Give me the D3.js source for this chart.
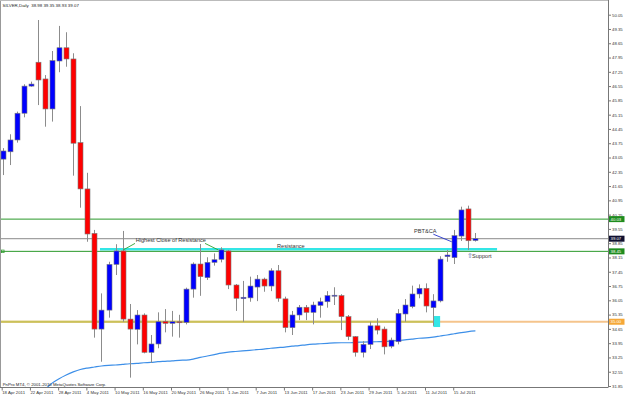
<!DOCTYPE html>
<html><head><meta charset="utf-8">
<script src="https://cdn.jsdelivr.net/npm/d3@7"></script>
<style>body{margin:0;background:#fff}svg{display:block}text{font-family:"Liberation Sans",Arial,sans-serif}</style>
</head><body>
<script>
const dates = ["18 Apr 2011","19 Apr 2011","20 Apr 2011","21 Apr 2011","22 Apr 2011","25 Apr 2011","26 Apr 2011","27 Apr 2011","28 Apr 2011","29 Apr 2011",
"2 May 2011","3 May 2011","4 May 2011","5 May 2011","6 May 2011","9 May 2011","10 May 2011","11 May 2011","12 May 2011","13 May 2011","16 May 2011","17 May 2011","18 May 2011","19 May 2011","20 May 2011","23 May 2011","24 May 2011","25 May 2011","26 May 2011","27 May 2011","30 May 2011","31 May 2011",
"1 Jun 2011","2 Jun 2011","3 Jun 2011","6 Jun 2011","7 Jun 2011","8 Jun 2011","9 Jun 2011","10 Jun 2011","13 Jun 2011","14 Jun 2011","15 Jun 2011","16 Jun 2011","17 Jun 2011","20 Jun 2011","21 Jun 2011","22 Jun 2011","23 Jun 2011","24 Jun 2011","27 Jun 2011","28 Jun 2011","29 Jun 2011","30 Jun 2011",
"1 Jul 2011","4 Jul 2011","5 Jul 2011","6 Jul 2011","7 Jul 2011","8 Jul 2011","11 Jul 2011","12 Jul 2011","13 Jul 2011","14 Jul 2011","15 Jul 2011","18 Jul 2011","19 Jul 2011","20 Jul 2011"];
const openV  = [42.97,43.33,43.91,45.22,46.55,47.72,46.90,45.43,47.78,48.43,47.88,43.78,41.51,39.33,34.64,35.57,37.81,38.47,35.13,34.63,35.33,33.50,33.91,35.02,34.92,35.00,34.97,36.60,37.83,37.16,37.91,38.06,38.47,36.80,36.13,36.17,36.70,37.09,36.75,37.50,36.12,34.71,35.33,35.71,35.46,35.80,35.98,36.28,36.28,35.25,34.27,33.50,33.89,34.80,34.64,33.80,34.02,35.38,35.74,36.36,36.64,35.69,36.02,38.19,38.14,39.20,40.53,38.98];
const highV  = [43.51,44.19,45.30,46.64,46.77,49.79,47.09,48.27,49.50,49.19,48.16,45.57,42.30,39.50,36.39,37.94,38.80,39.45,35.87,35.57,35.41,34.35,35.46,35.62,35.53,35.34,36.67,37.91,38.81,38.16,38.35,38.65,38.52,36.85,37.00,37.21,37.29,37.16,37.62,37.78,36.23,35.53,35.82,35.82,35.98,36.18,36.50,36.69,36.35,35.33,34.30,34.05,35.00,35.17,34.76,34.22,35.62,36.11,36.77,36.83,36.88,36.35,38.21,38.52,39.50,40.64,40.69,39.35];
const lowV   = [42.19,42.68,43.78,45.02,46.52,45.62,44.56,44.81,47.23,47.50,42.16,40.59,38.92,34.22,33.04,35.20,37.29,35.00,32.26,33.89,33.45,32.99,33.70,34.48,34.27,34.22,34.87,36.18,36.27,37.05,37.75,37.91,36.60,35.53,35.00,35.98,36.01,36.47,36.50,35.98,34.48,34.35,35.08,35.08,34.87,35.20,35.69,35.82,34.59,34.10,33.29,33.25,33.66,34.38,33.40,33.70,33.89,35.00,35.66,36.15,35.46,34.80,35.95,37.94,37.83,38.96,38.52,38.93];
const closeV = [43.37,43.91,45.22,46.55,46.65,46.85,45.43,47.80,48.43,47.88,43.75,41.51,39.30,34.64,35.57,37.81,38.47,35.13,34.64,35.33,33.50,33.91,35.00,34.92,35.00,34.95,36.60,37.83,37.21,37.91,38.04,38.52,36.80,36.15,36.20,36.75,37.09,36.75,37.50,36.15,34.71,35.33,35.71,35.46,35.82,35.98,36.28,36.30,35.25,34.27,33.50,33.89,34.80,34.59,33.77,34.10,35.41,35.82,36.36,36.64,35.77,36.02,38.07,38.27,39.22,40.48,38.97,39.07];
const maV = [null,null,null,null,null,null,31.68,31.99,32.21,32.39,32.54,32.66,32.73,32.78,32.83,32.86,32.88,32.91,32.94,32.96,32.99,33.01,33.04,33.06,33.08,33.11,33.12,33.17,33.25,33.32,33.39,33.46,33.51,33.54,33.57,33.60,33.63,33.66,33.70,33.73,33.76,33.80,33.83,33.87,33.90,33.92,33.94,33.96,33.97,33.97,33.99,34.00,34.01,34.02,34.03,34.05,34.08,34.11,34.15,34.19,34.21,34.25,34.30,34.35,34.41,34.47,34.52,34.55];
const yTickLabels = ["31.85","32.55","33.25","33.95","34.65","35.35","36.05","36.75","37.45","38.15","38.85","39.55","40.25","40.95","41.65","42.35","43.05","43.75","44.45","45.15","45.85","46.55","47.25","47.95","48.65","49.35","50.05"];
const title = "SILVER,Daily  38.98 39.35 38.93 39.07";
const credit = "PnPro MT4, \u00a9 2001-2010 MetaQuotes Software Corp.";
// horizontal levels
const levelUpper = 40.03, levelBid = 39.07, levelLower = 38.45, levelSupport = 35.00, levelResistance = 38.55;

const W = 625, H = 396;
const L = 1, R = 608, T = 1, B = 387;
const svg = d3.select("body").append("svg").attr("width", W).attr("height", H);
const x = d3.scaleLinear().domain([0, 67]).range([2.7, 475.4]);
const y = d3.scaleLinear().domain([31.85, 50.05]).range([386, 14.7]);

svg.append("defs").append("clipPath").attr("id","clip").append("rect")
  .attr("x", L).attr("y", T).attr("width", R - L).attr("height", B - T);
const g = svg.append("g").attr("clip-path","url(#clip)");

// levels
const hline = (p, col, w, x0, x1) => g.append("line")
  .attr("x1", x0 ?? L).attr("x2", x1 ?? R).attr("y1", y(p)).attr("y2", y(p))
  .attr("stroke", col).attr("stroke-width", w);
hline(levelSupport, "#f5c48c", 2);
hline(levelSupport, "#c9c25a", 2, L, x(61.04));
hline(levelUpper, "#2a992a", 1);
hline(levelBid, "#8a8a8a", 1);
hline(levelResistance, "#33e6e6", 2.5, x(13.79), x(70.07));
hline(levelLower, "#2a992a", 1);
g.append("rect").attr("x", 1.5).attr("y", y(levelLower) - 1.3).attr("width", 2.6).attr("height", 2.6)
  .attr("fill", "none").attr("stroke", "#2a992a").attr("stroke-width", 0.7);

// cyan box
g.append("rect").attr("x", x(61.04)).attr("width", x(62) - x(61.04))
  .attr("y", y(35.28)).attr("height", y(34.74) - y(35.28)).attr("fill", "#33e6e6");

// moving average
const maLine = d3.line().defined(d => d[1] != null).x(d => x(d[0])).y(d => y(d[1])).curve(d3.curveMonotoneX);
g.append("path").datum(maV.map((v, i) => [i, v])).attr("d", maLine)
  .attr("fill", "none").attr("stroke", "#3d8fe8").attr("stroke-width", 1.2);

// candles
const idx = d3.range(dates.length);
const bw = 5;
g.selectAll(".wick").data(idx).join("line")
  .attr("x1", i => Math.round(x(i)) + 0.5).attr("x2", i => Math.round(x(i)) + 0.5)
  .attr("y1", i => y(highV[i])).attr("y2", i => y(lowV[i]))
  .attr("stroke", "#8c8c8c").attr("stroke-width", 1);
g.selectAll(".body").data(idx).join("rect")
  .attr("x", i => Math.round(x(i)) + 0.5 - bw / 2).attr("width", bw)
  .attr("y", i => y(Math.max(openV[i], closeV[i])))
  .attr("height", i => Math.max(1, Math.abs(y(openV[i]) - y(closeV[i]))))
  .attr("fill", i => closeV[i] >= openV[i] ? "#0000ff" : "#ff0000")
  .attr("stroke", "#7a7a7a").attr("stroke-width", 0.6);

// annotations
const ann = svg.append("g");
const aline = (i0, p0, i1, p1, col) => ann.append("line")
  .attr("x1", x(i0)).attr("y1", y(p0)).attr("x2", x(i1)).attr("y2", y(p1))
  .attr("stroke", col).attr("stroke-width", 0.9);
aline(18.75, 38.84, 17.09, 38.52, "#2fa02f");
aline(28.68, 38.84, 30.56, 38.52, "#2fa02f");
aline(61.04, 39.29, 63.64, 38.92, "#2233cc");
const atext = (i, p, s, size, col) => ann.append("text").attr("x", x(i)).attr("y", y(p))
  .attr("font-size", size).attr("fill", col ?? "#333").text(s);
atext(18.85, 38.91, "Highest Close of Resistance", 5.6);
atext(38.88, 38.59, "Resistance", 5.6);
atext(58.3, 39.37, "PBT&CA", 5.6);
atext(65.77, 38.10, "\u21e7", 6.5, "#5566aa");
atext(66.52, 38.10, "Support", 5.6);

// frame
svg.append("line").attr("x1", 0.5).attr("x2", 0.5).attr("y1", 0).attr("y2", B).attr("stroke", "#999");
svg.append("line").attr("x1", 0).attr("x2", R).attr("y1", 0.5).attr("y2", 0.5).attr("stroke", "#bbb");

// right axis
const yAxis = d3.axisRight(y).tickValues(yTickLabels.map(Number)).tickFormat((d, i) => yTickLabels[i]).tickSize(2.5).tickPadding(1);
const ya = svg.append("g").attr("transform", `translate(${R + 0.5},0)`).call(yAxis);
ya.select(".domain").attr("d", `M0,0V${B}`).attr("stroke", "#777");
ya.selectAll(".tick line").attr("stroke", "#777");
ya.selectAll("text").attr("font-size", 4.3).attr("fill", "#333").attr("font-family", "Liberation Sans, Arial");

// bottom axis
const xTicks = idx.filter(i => i % 4 === 0);
const xAxis = d3.axisBottom(x).tickValues(xTicks).tickFormat(i => dates[i]).tickSize(3).tickPadding(0.5);
const xa = svg.append("g").attr("transform", `translate(0,${B + 0.5})`).call(xAxis);
xa.select(".domain").attr("d", `M0,0H${R + 0.5}`).attr("stroke", "#777");
xa.selectAll(".tick line").attr("stroke", "#777").attr("transform", "translate(-1,0)");
xa.selectAll("text").attr("font-size", 4.3).attr("fill", "#333").attr("text-anchor", "start").attr("dx", -1)
  .attr("font-family", "Liberation Sans, Arial");

// price tags
const tag = (p, col, txtCol) => {
  const t = svg.append("g").attr("transform", `translate(${R + 1},${y(p)})`);
  t.append("rect").attr("x", 0).attr("y", -3).attr("width", 15.5).attr("height", 6).attr("fill", col);
  t.append("text").attr("x", 1.5).attr("y", 1.6).attr("font-size", 4.3).attr("fill", txtCol).text(p.toFixed(2));
};
tag(levelUpper, "#1e8c1e", "#fff");
tag(levelBid, "#101030", "#fff");
tag(levelLower, "#1e8c1e", "#fff");
tag(levelSupport, "#f5a838", "#fff");

// title and credit
svg.append("text").attr("x", 2.5).attr("y", 7).attr("font-size", 4.4).attr("fill", "#222")
  .attr("xml:space", "preserve").style("white-space", "pre").text(title);
svg.append("text").attr("x", 2.7).attr("y", 385.5).attr("font-size", 4.3).attr("fill", "#222").text(credit);
</script>
</body></html>
